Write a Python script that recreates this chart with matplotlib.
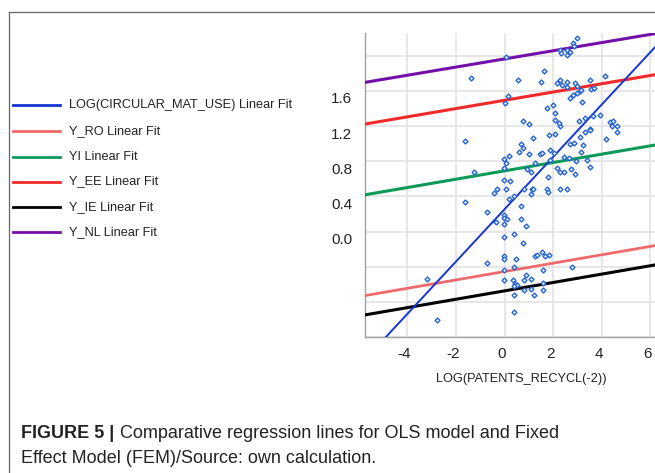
import matplotlib
matplotlib.use('Agg')
import matplotlib.pyplot as plt
from matplotlib.lines import Line2D
from matplotlib.transforms import ScaledTranslation
import numpy as np

plt.rcParams['font.family'] = ['Liberation Sans', 'DejaVu Sans']
plt.rcParams['axes.unicode_minus'] = False

# scatter points (x = LOG(PATENTS_RECYCL(-2)))
pts_x = [0.08, -1.39, 0.57, 1.48, 0.14, 0.00, 0.74, 1.00,
         2.98, 2.82, 2.84, 2.59, 2.68, 2.27, 2.32, 2.57, 1.61, 2.16, 2.30, 2.36,
         2.57, 2.57, 2.88, 2.98, 3.09, 2.98, 3.16, 3.52, 3.55, 3.69, 4.14, 2.82,
         2.70, 3.18, 1.75, 2.00, 2.09, 2.09, 2.30, 2.23, 3.05, 3.32, 3.66, 3.52,
         3.93, 4.32, 4.48, 4.62, 4.41,
         -1.64, 0.68, 0.77, 0.59, 1.00, 1.18, 1.45, 0.18, -0.03, 0.04, -0.03,
         -1.26, 0.93, 1.07, 1.27, -0.03, 0.22, -0.30, -0.44, 0.04, 1.14, 1.07,
         0.38, 0.18, 0.66, -1.64, -0.71, -0.03, -0.03, 0.11, 0.66, -0.03, 0.90,
         2.09, 1.82, 3.11, 3.32, 3.50, 4.18, 4.62, 2.84, 2.68, 3.23, 1.89, 2.05,
         1.55, 3.14, 2.43, 2.64, 2.95, 3.41, 3.52, 1.89, 2.16, 2.30, 2.46, 2.73,
         2.91, 1.77, 1.75, 1.77, 2.30, 2.57, 0.79, 1.18,
         -0.37, 0.38, -0.03, 0.75, 1.55, 1.27, 1.34, 1.68, 1.82, -0.03, -0.03,
         0.49, -0.71, 0.38, -0.03, 1.59, 2.77, 0.89, 0.82, 1.09, -0.03, 0.36,
         0.45, 0.52, 0.38, 1.59, 1.59, 0.82, 1.09, 1.20, 0.38, -3.20, -2.79, 0.38]
pts_y = [1.99, 1.75, 1.72, 1.70, 1.54, 1.46, 1.26, 1.22,
         2.20, 2.15, 2.11, 2.07, 2.04, 2.07, 2.03, 2.01, 1.83, 1.69, 1.72, 1.67,
         1.70, 1.65, 1.69, 1.66, 1.60, 1.58, 1.61, 1.73, 1.62, 1.63, 1.77, 1.56,
         1.52, 1.48, 1.41, 1.44, 1.35, 1.27, 1.20, 1.24, 1.26, 1.29, 1.31, 1.17,
         1.33, 1.25, 1.26, 1.20, 1.20,
         1.03, 1.00, 0.95, 0.91, 0.88, 1.07, 0.88, 0.86, 0.83, 0.78, 0.72,
         0.68, 0.71, 0.68, 0.78, 0.59, 0.57, 0.48, 0.44, 0.49, 0.49, 0.43,
         0.40, 0.37, 0.29, 0.34, 0.22, 0.19, 0.15, 0.14, 0.14, 0.09, 0.06,
         1.11, 1.10, 1.08, 1.13, 1.16, 1.05, 1.13, 1.01, 1.00, 0.99, 0.93, 0.89,
         0.89, 0.90, 0.85, 0.84, 0.80, 0.82, 0.74, 0.82, 0.72, 0.68, 0.68, 0.71,
         0.65, 0.62, 0.48, 0.45, 0.49, 0.48, 0.48, 0.48,
         0.11, -0.03, -0.06, -0.13, -0.23, -0.28, -0.27, -0.28, -0.27, -0.28, -0.31,
         -0.31, -0.36, -0.40, -0.44, -0.44, -0.40, -0.49, -0.55, -0.54, -0.55, -0.55,
         -0.60, -0.61, -0.62, -0.59, -0.66, -0.66, -0.65, -0.72, -0.72, -0.54, -1.01, -0.92]

# fitted lines: intercept and slope
fit_names = ['LOG(CIRCULAR_MAT_USE) Linear Fit', 'Y_RO Linear Fit', 'YI Linear Fit',
             'Y_EE Linear Fit', 'Y_IE Linear Fit', 'Y_NL Linear Fit']
fit_colors = ['#1536d0', '#ef6a6a', '#0d9a58', '#f02a2a', '#000000', '#7410a8']
fit_icpt = [0.254, -0.455, 0.691, 1.494, -0.675, 1.965]
fit_slope = [0.298, 0.0477, 0.0475, 0.0471, 0.0477, 0.0465]
fit_width = [1.4, 2.0, 2.2, 2.2, 2.2, 2.2]

y_ticks = [-1.2, -0.8, -0.4, 0.0, 0.4, 0.8, 1.2, 1.6, 2.0]
y_labels = ['', '', '', '0.0', '0.4', '0.8', '1.2', '1.6', '']
x_ticks = [-4, -2, 0, 2, 4, 6]

W, H = 655, 473
fig = plt.figure(figsize=(W / 100, H / 100), dpi=100)
ax = fig.add_axes([365 / W, 1 - 337 / H, 290 / W, 304 / H])

xlo, xhi = -5.74, 6.19
xx = np.array([xlo - 1, xhi + 1])
# fit lines, black at the bottom, blue on top
for i in [4, 1, 2, 3, 5, 0]:
    ax.plot(xx, fit_icpt[i] + fit_slope[i] * xx, color=fit_colors[i],
            lw=fit_width[i], solid_capstyle='butt', zorder=3)

ax.scatter(pts_x, pts_y, marker='D', s=6, facecolors='white',
           edgecolors='#2563d4', linewidths=1.0, zorder=4)

ax.set_xlim(xlo, xhi)
ax.set_ylim(-1.2, 2.26)
ax.set_xticks(x_ticks)
ax.set_yticks(y_ticks)
ax.set_yticklabels(y_labels)
ax.grid(True, color='#e3e3e3', lw=1.2, zorder=0)
ax.set_axisbelow(True)
ax.tick_params(length=0, labelsize=11, colors='#222222')
ax.tick_params(axis='y', pad=9)
ax.tick_params(axis='x', pad=7)
# y labels sit a little below their grid lines in the original
off = ScaledTranslation(0, -7 / 100, fig.dpi_scale_trans)
for lab in ax.get_yticklabels():
    lab.set_transform(lab.get_transform() + off)
off_x = ScaledTranslation(-3 / 100, 0, fig.dpi_scale_trans)
for lab in ax.get_xticklabels():
    lab.set_transform(lab.get_transform() + off_x)

for s in ['top', 'right']:
    ax.spines[s].set_visible(False)
for s in ['left', 'bottom']:
    ax.spines[s].set_color('#a0a0a0')
    ax.spines[s].set_linewidth(1.0)

ax.set_xlabel('LOG(PATENTS_RECYCL(-2))', fontsize=9.2, color='#222222')
ax.xaxis.set_label_coords((521 - 365) / 290, (337 - 373) / 304)

# legend drawn by hand at the left
leg_y = [105, 131.5, 157, 181.5, 207, 232.5]
for i, name in enumerate(fit_names):
    yf = 1 - leg_y[i] / H
    fig.add_artist(Line2D([13 / W, 60 / W], [yf, yf], color=fit_colors[i], lw=2.0,
                          transform=fig.transFigure))
    fig.text(69 / W, yf, name, fontsize=9.2, va='center', ha='left', color='#222222')

# frame of the figure panel
fig.add_artist(Line2D([9 / W, 9 / W], [0, 1 - 12 / H], color='#666666', lw=0.9,
                      transform=fig.transFigure))
fig.add_artist(Line2D([9 / W, 1], [1 - 12 / H, 1 - 12 / H], color='#666666', lw=0.9,
                      transform=fig.transFigure))

# caption
cap_fs = 13.0
t1 = fig.text(21 / W, 1 - 433 / H, 'FIGURE 5 |', fontsize=cap_fs, fontweight='bold',
              va='center', ha='left', color='#222222')
fig.canvas.draw()
bb = t1.get_window_extent()
fig.text((bb.x1 + 6) / W, 1 - 433 / H, 'Comparative regression lines for OLS model and Fixed',
         fontsize=cap_fs, va='center', ha='left', color='#222222')
fig.text(21 / W, 1 - 458 / H, 'Effect Model (FEM)/Source: own calculation.',
         fontsize=cap_fs, va='center', ha='left', color='#222222')

fig.savefig('out.png', dpi=100)
